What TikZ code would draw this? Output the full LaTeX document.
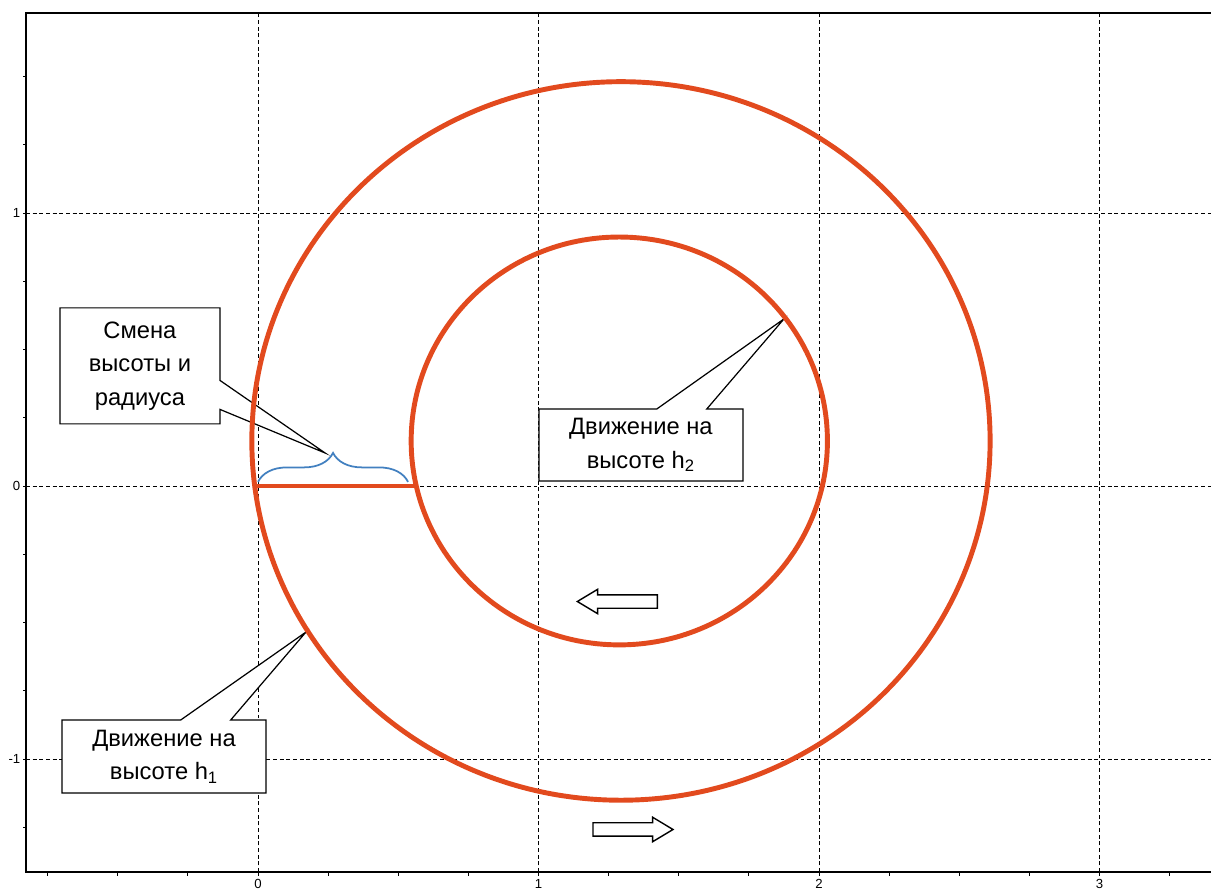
\documentclass[tikz,border=0pt]{standalone}
\usepackage{fontspec}
\setmainfont{Liberation Sans}
\usetikzlibrary{shapes.callouts,shapes.arrows,decorations.pathreplacing}

\definecolor{trackred}{RGB}{226,74,30}
\definecolor{braceblue}{RGB}{66,128,192}

\begin{document}
\begin{tikzpicture}[x=5.61cm,y=5.46cm,
  grid/.style={dash pattern=on 2.2pt off 1.6pt,line width=0.5pt},
  frame/.style={line width=1.1pt},
  track/.style={trackred,line width=2.8pt},
  note/.style={rectangle callout,draw,fill=white,line width=0.7pt,align=center,
    inner sep=0pt,font=\fontsize{13.5}{19}\selectfont},
  blockarrow/.style={single arrow,draw,fill=white,line width=0.8pt,inner xsep=0pt,
    inner ysep=0.12cm,minimum height=1.6cm,single arrow head extend=0.11cm,
    single arrow tip angle=62},
  ticklabel/.style={font=\fontsize{7.5}{9}\selectfont,inner sep=1pt},
  gapbrace/.style={braceblue,line width=1pt,decorate,
    decoration={brace,amplitude=0.58cm}}]
  \useasboundingbox (-0.9198,-1.4908) rectangle (3.3975,1.7802);

  \foreach \gx in {0,...,3}
    \draw[grid] (\gx,-1.4139) -- (\gx,1.7326);
  \foreach \gy in {-1,0,1}
    \draw[grid] (-0.8271,\gy) -- (3.3975,\gy);

  \draw[frame] (3.3975,1.7326) -- (-0.8271,1.7326) -- (-0.8271,-1.4139) -- (3.3975,-1.4139);
  \foreach \t in {-0.75,-0.5,...,3.25}
    \draw[line width=0.5pt] (\t,-1.4139) -- (\t,-1.428);
  \foreach \t in {-1.25,-1,...,1.5}
    \draw[line width=0.5pt] (-0.8271,\t) -- (-0.8378,\t);
  \foreach \v in {0,...,3}
    \node[ticklabel,anchor=north] (xl\v) at (\v,-1.432) {\v};
  \foreach \v in {-1,0,1}
    \node[ticklabel,anchor=east] (yl\v) at (-0.84,\v) {\v};

  \coordinate (gapL) at (0,0.015);
  \coordinate (gapR) at (0.535,0.015);
  \coordinate (tipA) at (0.239,0.121);
  \coordinate (tipB) at (0.171,-0.535);
  \coordinate (tipC) at (1.875,0.612);

  \node[note,minimum width=3.2cm,minimum height=2.32cm,callout pointer width=0.58cm,
    callout absolute pointer={(tipA)}] (change) at (-0.421,0.440) {Смена\\высоты и\\радиуса};
  \node[note,minimum width=4.08cm,minimum height=1.46cm,callout pointer width=1cm,
    callout absolute pointer={(tipB)}] (lowpath) at (-0.335,-0.991) {Движение на\\высоте h\textsubscript{1}};
  \node[note,minimum width=4.08cm,minimum height=1.44cm,callout pointer width=1cm,
    callout absolute pointer={(tipC)}] (highpath) at (1.365,0.150) {Движение на\\высоте h\textsubscript{2}};

  \draw[track] (1.294,0.165) ellipse [x radius=1.316,y radius=1.316];
  \draw[track] (1.288,0.165) ellipse [x radius=0.742,y radius=0.747];
  \draw[track] (-0.01,0) -- (0.565,0);
  \draw[gapbrace] (gapL) -- (gapR);

  \node[blockarrow,shape border rotate=180] (backward) at (1.301,-0.4231) {};
  \node[blockarrow] (forward) at (1.317,-1.2582) {};
\end{tikzpicture}
\end{document}
